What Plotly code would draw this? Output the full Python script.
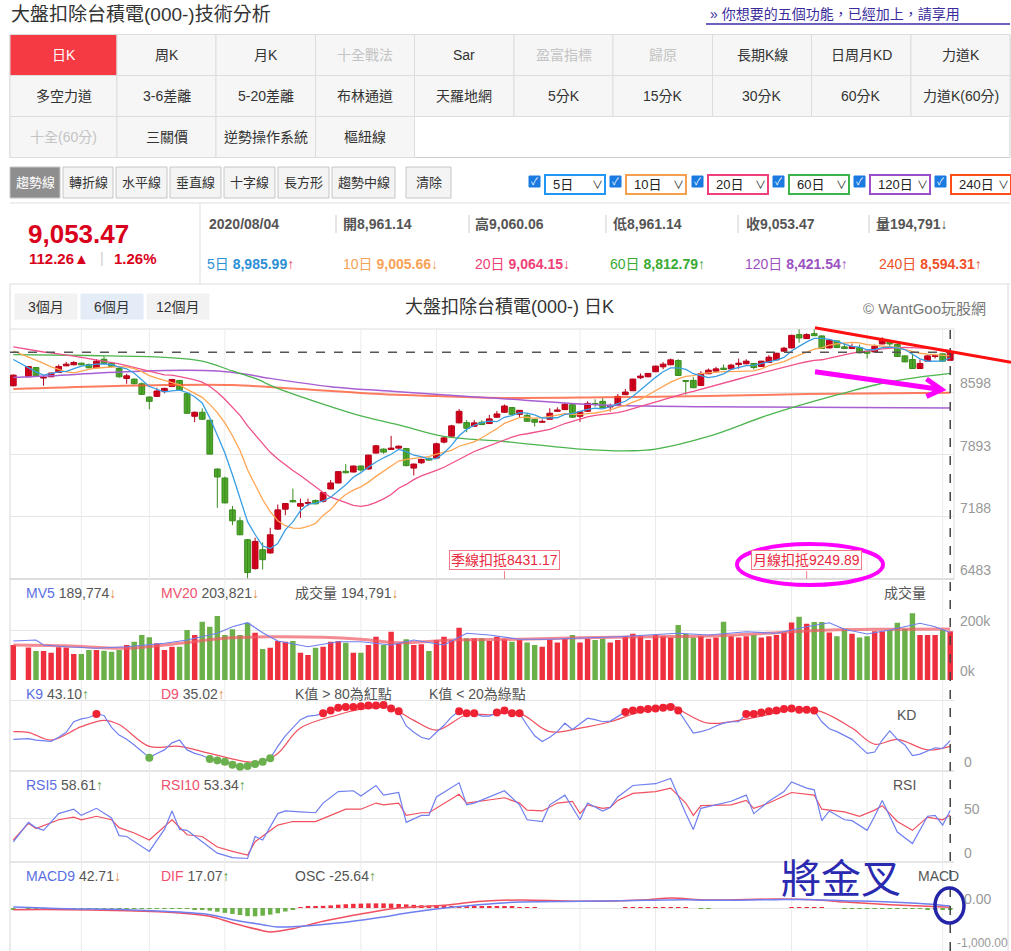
import plotly.graph_objects as go
import pandas as pd

W, H = 1011, 951
def X(px): return px / W
def Y(py): return 1 - py / H

FONT = "Liberation Sans, Noto Sans CJK TC, sans-serif"

# ---------------- data ----------------
N = 125
opens = [8672, None, 8774, 8879, 8760, 8774, 8823, 8898, 8910, 8928,
         8913, 8876, 8973, 8928, 8868, 8755, 8748, 8695, 8545, 8552,
         8609, 8665, 8733, 8586, 8327, 8372, 8282, 7729, 7627, 7266,
         7142, 6928, 6601, 6815, 6778, 7048, 7274, 7372, 7308, 7340,
         7372, 7364, 7503, 7571, 7703, 7695, 7763, 7729, 7910, 7955,
         7951, 7966, 7962, 7740, 7800, 7849, 7853, 8034, 8101, 8252,
         8255, 8214, 8259, 8244, 8316, 8372, 8425, 8349, 8338, 8289,
         8259, 8293, 8383, 8402, 8458, 8327, 8383, 8470, 8496, 8432,
         8462, 8571, 8616, 8763, 8774, 8831, 8887, 8910, 8958, 8727,
         8733, 8676, 8808, 8838, 8872, 8864, 8913, 8921, 8925, 8891,
         8936, 8966, 9064, 9101, 9252, 9207, 9263, 9237, 9101, 9180,
         9113, 9094, 9105, 9064, 9056, 9146, 9169, 9139, 9011, 8970,
         8868, 8951, 9004, 9034, 8961.14]
highs = [8800, None, 8895, 8883, 8793, 8822, 8913, 8943, 8951, 8932,
         8925, 8973, 9007, 8943, 8872, 8808, 8752, 8710, 8550, 8650,
         8648, 8750, 8738, 8590, 8380, 8417, 8285, 7735, 7642, 7312,
         7183, 6935, 6951, 6898, 7063, 7327, 7342, 7507, 7394, 7394,
         7383, 7466, 7605, 7703, 7785, 7767, 7767, 7890, 8003, 7962,
         8105, 7996, 7966, 7790, 7846, 7864, 8027, 8094, 8229, 8409,
         8285, 8285, 8282, 8342, 8387, 8460, 8430, 8398, 8364, 8293,
         8293, 8417, 8428, 8477, 8462, 8380, 8496, 8518, 8533, 8470,
         8578, 8635, 8752, 8812, 8816, 8898, 8940, 8981, 8973, 8730,
         8770, 8838, 8868, 8887, 8913, 8921, 8981, 8973, 8930, 8955,
         9019, 9045, 9113, 9248, 9312, 9267, 9312, 9241, 9192, 9184,
         9161, 9150, 9139, 9068, 9139, 9222, 9192, 9143, 9015, 9034,
         8970, 9015, 9034, 9038, 9060.06]
lows = [8665, None, 8770, 8780, 8673, 8770, 8820, 8895, 8905, 8905,
        8872, 8872, 8920, 8880, 8763, 8695, 8690, 8570, 8406, 8548,
        8586, 8660, 8615, 8355, 8259, 8290, 7895, 7289, 7340, 7093,
        6980, 6492, 6590, 6590, 6770, 7040, 7206, 7350, 7176, 7308,
        7330, 7348, 7500, 7568, 7680, 7690, 7700, 7725, 7905, 7902,
        7948, 7950, 7760, 7657, 7785, 7825, 7850, 8020, 8098, 8248,
        8146, 8210, 8228, 8240, 8310, 8368, 8345, 8319, 8265, 8210,
        8255, 8290, 8380, 8398, 8312, 8263, 8380, 8435, 8420, 8380,
        8458, 8568, 8612, 8748, 8770, 8828, 8860, 8905, 8785, 8571,
        8645, 8672, 8805, 8820, 8855, 8860, 8865, 8918, 8857, 8888,
        8932, 8962, 9060, 9098, 9161, 9203, 9235, 9090, 9097, 9100,
        9090, 9090, 9040, 8981, 9052, 9142, 9124, 9000, 8940, 8865,
        8865, 8948, 8981, 8948, 8961.14]
closes = [8793, None, 8891, 8785, 8765, 8816, 8891, 8917, 8936, 8910,
          8876, 8951, 8925, 8891, 8774, 8785, 8695, 8575, 8496, 8613,
          8643, 8744, 8620, 8361, 8372, 8293, 7898, 7639, 7345, 7142,
          6984, 6556, 6909, 6702, 6984, 7266, 7338, 7357, 7338, 7345,
          7334, 7462, 7571, 7699, 7687, 7763, 7718, 7887, 7992, 7921,
          7966, 7988, 7767, 7785, 7838, 7830, 8015, 8082, 8218, 8383,
          8191, 8252, 8233, 8297, 8353, 8443, 8349, 8394, 8270, 8259,
          8263, 8361, 8398, 8462, 8316, 8376, 8473, 8462, 8425, 8443,
          8552, 8601, 8748, 8782, 8812, 8895, 8917, 8966, 8789, 8722,
          8650, 8812, 8849, 8864, 8857, 8906, 8928, 8951, 8879, 8951,
          8996, 9041, 9098, 9244, 9214, 9252, 9240, 9094, 9188, 9105,
          9094, 9116, 9045, 9041, 9120, 9199, 9146, 9004, 8943, 8868,
          8925, 9011, 9008, 8951, 9053.47]
volumes_k = [140, None, 130, 116, 116, 109, 131, 130, 104, 104,
             120, 120, 117, 113, 120, 140, 153, 180, 171, 147,
             120, 133, 133, 200, 180, 233, 213, 256, 180, 203,
             180, 229, 189, 124, 129, 156, 153, 156, 109, 100,
             129, 133, 153, 156, 149, 109, 109, 140, 173, 140,
             193, 147, 163, 140, 143, 116, 160, 173, 160, 209,
             167, 167, 167, 156, 173, 163, 153, 160, 150, 140,
             133, 160, 150, 165, 180, 150, 165, 160, 165, 150,
             160, 175, 185, 175, 160, 180, 175, 170, 220, 185,
             170, 175, 165, 170, 233, 175, 170, 175, 180, 170,
             175, 180, 190, 230, 253, 225, 232, 232, 190, 175,
             205, 185, 170, 175, 195, 195, 200, 229, 205, 267,
             180, 180, 180, 200, 194.791]

# MA heads (first days)
ma5_head = {0: 8970, 2: 8876, 3: 8830, 4: 8793}
ma10_head = {0: 9067, 2: 9000, 3: 8966, 4: 8925, 5: 8887, 6: 8857, 7: 8831, 8: 8819, 9: 8842}
ma20_head = {0: 9113, 2: 9080, 3: 9070, 4: 9055, 5: 9045, 6: 9035, 7: 9020, 8: 9008, 9: 8995,
             10: 8980, 11: 8968, 12: 8955, 13: 8940, 14: 8920, 15: 8900, 16: 8880, 17: 8860,
             18: 8838, 19: 8815}
ma60_idx = [0, 10, 20, 25, 29, 32, 35, 42, 46, 51, 57, 65, 75, 82, 85, 92, 100, 109, 116, 124]
ma60_val = [9026, 9015, 8995, 8951, 8840, 8755, 8643, 8436, 8331, 8229, 8098, 8041, 7955, 7936,
            7955, 8098, 8342, 8568, 8718, 8812.79]
ma120_idx = [0, 5, 12, 20, 27, 31, 34, 42, 51, 64, 78, 92, 105, 124]
ma120_val = [8767, 8785, 8820, 8846, 8840, 8800, 8756, 8662, 8605, 8530, 8455, 8436, 8428, 8421.54]
ma240_idx = [0, 20, 29, 38, 47, 56, 65, 78, 92, 105, 124]
ma240_val = [8635, 8680, 8680, 8635, 8586, 8556, 8535, 8541, 8556, 8579, 8594.31]

mv5_idx = [0, 3, 4, 7, 11, 15, 20, 23, 27, 29, 31, 33, 35, 39, 43, 46, 50, 53, 57, 60, 63, 67, 71,
           75, 80, 84, 88, 92, 97, 101, 105, 108, 110, 113, 116, 120, 122, 124]
mv5_val = [156, 160, 140, 133, 127, 133, 147, 160, 187, 213, 229, 189, 156, 133, 153, 153, 140,
           160, 140, 187, 180, 163, 163, 167, 173, 180, 187, 180, 193, 187, 213, 229, 203, 184,
           200, 227, 213, 189.774]
mv20_idx = [0, 7, 15, 22, 28, 34, 41, 46, 51, 58, 67, 75, 84, 92, 101, 108, 114, 118, 124]
mv20_val = [140, 137, 127, 147, 167, 173, 171, 163, 149, 160, 163, 169, 173, 176, 189, 200, 203,
            203, 203.821]

K9 = [45, None, 46, 44, 43, 42, 48, 55, 70, 74,
      76, 81, 79, 62, 51, 45, 37, 28, 19, 25,
      30, 40, 44, 30, 25, 22, 17, 15, 13, 9,
      6, 7, 10, 13, 18, 35, 50, 62, 73, 78,
      79, 82, 86, 90, 91, 91, 92, 93, 93, 94,
      89, 85, 64, 55, 48, 45, 55, 65, 77, 85,
      82, 82, 78, 78, 83, 86, 82, 82, 65, 50,
      42, 48, 56, 68, 59, 67, 75, 73, 70, 71,
      78, 84, 86, 87, 88, 89, 90, 91, 86, 70,
      54, 56, 59, 64, 68, 70, 70, 81, 81, 83,
      85, 86, 88, 89, 87, 87, 86, 70, 60, 56,
      50, 45, 35, 25, 27, 44, 57, 45, 37, 22,
      24, 28, 33, 32, 43.10]
d9_idx = [0, 2, 5, 9, 12, 14, 18, 22, 26, 31, 33, 35, 38, 43, 46, 50, 53, 56, 60, 63, 67, 71, 75,
          79, 82, 85, 87, 89, 92, 98, 101, 104, 107, 111, 114, 117, 121, 124]
d9_val = [56, 55, 44, 63, 72, 66, 35, 35, 25, 13, 14, 25, 61, 80, 88, 89, 72, 58, 80, 80, 82, 56,
          61, 70, 81, 89, 94, 82, 68, 76, 83, 89, 84, 61, 38, 45, 30, 35.02]

rsi5_idx = [0, 2, 3, 4, 6, 8, 9, 11, 13, 14, 15, 18, 20, 21, 22, 23, 25, 27, 29, 31, 32, 33, 35,
            36, 38, 40, 41, 43, 45, 46, 48, 49, 51, 52, 54, 55, 56, 59, 60, 61, 65, 67, 68, 70,
            71, 73, 75, 76, 78, 79, 80, 82, 85, 87, 89, 90, 91, 93, 95, 97, 98, 100, 102, 103,
            105, 106, 107, 108, 110, 111, 113, 114, 115, 117, 119, 121, 122, 123, 124]
rsi5_val = [23, 45, 39, 36, 55, 60, 53, 61, 50, 30, 29, 12, 37, 58, 37, 36, 23, 10, 5, 4, 29, 25,
            55, 58, 57, 56, 67, 80, 81, 75, 87, 76, 79, 45, 53, 53, 74, 90, 65, 67, 81, 65, 48,
            46, 65, 76, 48, 67, 58, 62, 74, 87, 89, 95, 55, 37, 61, 65, 69, 76, 55, 69, 80, 91,
            84, 82, 47, 58, 48, 47, 36, 52, 70, 34, 21, 52, 53, 42, 58.61]
rsi10_idx = [0, 2, 3, 6, 8, 9, 11, 13, 14, 16, 18, 21, 23, 25, 27, 29, 31, 32, 35, 37, 40, 44,
             46, 48, 49, 51, 52, 54, 55, 57, 59, 60, 65, 67, 68, 70, 72, 74, 75, 76, 78, 79, 80,
             82, 85, 87, 89, 90, 91, 95, 97, 98, 100, 103, 106, 107, 110, 112, 114, 115, 117,
             119, 121, 123, 124]
rsi10_val = [25, 44, 38, 48, 51, 48, 52, 48, 39, 33, 25, 48, 31, 29, 17, 12, 8, 23, 42, 46, 46,
             60, 60, 67, 65, 67, 53, 56, 56, 67, 77, 67, 73, 67, 59, 58, 67, 69, 55, 65, 61, 62,
             70, 78, 80, 84, 67, 53, 64, 65, 70, 61, 67, 79, 76, 60, 57, 52, 59, 64, 46, 36, 51,
             48, 53.34]

macd_idx = [0, 7, 15, 20, 26, 29, 33, 35, 38, 43, 48, 53, 58, 63, 67, 75, 84, 89, 92, 101, 106,
            110, 116, 121, 124]
macd_val = [23, -15, -38, -76, -152, -265, -379, -432, -417, -341, -227, -91, 15, 91, 136, 152,
            174, 190, 174, 190, 190, 167, 136, 91, 42.71]
dif_idx = [0, 7, 15, 20, 26, 29, 33, 34, 37, 41, 46, 51, 57, 62, 67, 75, 84, 87, 92, 101, 106,
           110, 116, 121, 124]
dif_val = [-38, -38, -61, -91, -190, -341, -515, -546, -470, -303, -136, 0, 61, 152, 182, 152,
           190, 227, 182, 205, 190, 136, 76, 38, 17.07]
osc = [-30, None, -25, -10, -8, -8, -8, -8, -5, -5,
       -5, -5, -8, -8, -10, -12, -15, -15, -18, -20,
       -18, -15, -15, -20, -30, -40, -60, -85, -110, -135,
       -160, -185, -190, -175, -150, -120, -80, -40, 10, 25,
       40, 50, 60, 75, 85, 95, 100, 105, 105, 105,
       100, 92, 82, 72, 62, 56, 55, 52, 48, 46,
       44, 42, 38, 35, 30, 28, 24, 20, 15, 3,
       0, 0, 0, 0, 0, 0, 0, 0, 0, 0,
       0, 3, 8, 8, 8, 8, 8, 8, 8, 3,
       0, -6, -6, 0, 0, 0, 0, 0, 0, 0,
       0, 0, 0, 3, 8, 8, 8, 3, 0, 0,
       -8, -10, -12, -12, -12, -10, -10, -12, -15, -18,
       -22, -25, -28, -30, -25.64]

grid_idx = [9, 18, 28, 46, 56, 75, 85, 103, 113, 123]
price_ticks = [8598, 7893, 7188, 6483]
deduct_quarter, deduct_month = 8431.17, 9249.89

# ---------------- derived ----------------
idx = list(range(N))
cs = pd.Series(closes, dtype=float)
valid = cs.dropna()
def ma(n, head):
    m = valid.rolling(n).mean().reindex(cs.index)
    for k, v in head.items():
        m[k] = v
    return [None if pd.isna(v) else v for v in m]
ma5 = ma(5, ma5_head)
ma10 = ma(10, ma10_head)
ma20 = ma(20, ma20_head)

RED, GREEN = "#d6001c", "#4fa82c"
REDE, GREENE = "#b50018", "#3a8c1f"

fig = go.Figure()

# wicks
for up, col in [(True, REDE), (False, GREENE)]:
    wx, wy = [], []
    for i in idx:
        if opens[i] is None:
            continue
        if (closes[i] >= opens[i]) == up:
            wx += [i, i, None]
            wy += [lows[i], highs[i], None]
    fig.add_trace(go.Scatter(x=wx, y=wy, mode="lines", line=dict(color=col, width=1),
                             yaxis="y", hoverinfo="skip", showlegend=False))

# bodies
bx, bb, bh, bc, be = [], [], [], [], []
for i in idx:
    if opens[i] is None:
        continue
    o, c = opens[i], closes[i]
    bx.append(i)
    bb.append(min(o, c))
    bh.append(max(abs(c - o), 10))
    up = c >= o
    bc.append(RED if up else GREEN)
    be.append(REDE if up else GREENE)
fig.add_trace(go.Bar(x=bx, y=bh, base=bb, width=0.76, yaxis="y",
                     marker=dict(color=bc, line=dict(color=be, width=1)), showlegend=False))

# moving averages
fig.add_trace(go.Scatter(x=ma240_idx, y=ma240_val, mode="lines", yaxis="y", line=dict(color="rgba(255,80,40,0.75)", width=2, shape="spline"), showlegend=False))
fig.add_trace(go.Scatter(x=ma120_idx, y=ma120_val, mode="lines", yaxis="y", line=dict(color="#a85fd2", width=1.5, shape="spline"), showlegend=False))
fig.add_trace(go.Scatter(x=ma60_idx, y=ma60_val, mode="lines", yaxis="y", line=dict(color="#4cb54e", width=1.3, shape="spline"), showlegend=False))
fig.add_trace(go.Scatter(x=idx, y=ma20, mode="lines", yaxis="y", connectgaps=True, line=dict(color="#f0508c", width=1.3), showlegend=False))
fig.add_trace(go.Scatter(x=idx, y=ma10, mode="lines", yaxis="y", connectgaps=True, line=dict(color="#ffa552", width=1.3), showlegend=False))
fig.add_trace(go.Scatter(x=idx, y=ma5, mode="lines", yaxis="y", connectgaps=True, line=dict(color="#3a9ee4", width=1.3), showlegend=False))

# volume
vol = [None if v is None else v * 1000 for v in volumes_k]
vcol = []
for i in idx:
    if opens[i] is None:
        vcol.append("#ffffff")
    else:
        vcol.append("#ee2f3d" if closes[i] >= opens[i] else "#6cb04a")
fig.add_trace(go.Bar(x=idx, y=vol, width=0.72, yaxis="y2", marker=dict(color=vcol, line=dict(width=0)), showlegend=False))
fig.add_trace(go.Scatter(x=mv20_idx, y=[v * 1000 for v in mv20_val], mode="lines", yaxis="y2", line=dict(color="rgba(240,90,100,0.7)", width=3, shape="spline"), showlegend=False))
fig.add_trace(go.Scatter(x=mv5_idx, y=[v * 1000 for v in mv5_val], mode="lines", yaxis="y2", line=dict(color="#6f7ff0", width=1.2), showlegend=False))

# KD
fig.add_trace(go.Scatter(x=d9_idx, y=d9_val, mode="lines", yaxis="y3", line=dict(color="#f0505f", width=1.2, shape="spline"), showlegend=False))
fig.add_trace(go.Scatter(x=idx, y=K9, mode="lines", yaxis="y3", connectgaps=True, line=dict(color="#6f7ff0", width=1.2), showlegend=False))
hx = [i for i in idx if K9[i] is not None and K9[i] > 80]
lx = [i for i in idx if K9[i] is not None and K9[i] < 20]
fig.add_trace(go.Scatter(x=hx, y=[K9[i] for i in hx], mode="markers", yaxis="y3", marker=dict(color="#ee2233", size=8), showlegend=False))
fig.add_trace(go.Scatter(x=lx, y=[K9[i] for i in lx], mode="markers", yaxis="y3", marker=dict(color="#6ab04c", size=8), showlegend=False))

# RSI
fig.add_trace(go.Scatter(x=rsi10_idx, y=rsi10_val, mode="lines", yaxis="y4", line=dict(color="#f0505f", width=1.2), showlegend=False))
fig.add_trace(go.Scatter(x=rsi5_idx, y=rsi5_val, mode="lines", yaxis="y4", line=dict(color="#6f7ff0", width=1.2), showlegend=False))

# MACD
ocol = ["#ee2f3d" if (v is not None and v > 0) else "#6cb04a" for v in osc]
fig.add_trace(go.Bar(x=idx, y=osc, width=0.6, yaxis="y5", marker=dict(color=ocol, line=dict(width=0)), showlegend=False))
fig.add_trace(go.Scatter(x=dif_idx, y=dif_val, mode="lines", yaxis="y5", line=dict(color="#f0505f", width=1.5, shape="spline"), showlegend=False))
fig.add_trace(go.Scatter(x=macd_idx, y=macd_val, mode="lines", yaxis="y5", line=dict(color="#6f7ff0", width=1.5, shape="spline"), showlegend=False))

# ---------------- layout ----------------
def ydom(top, bot):
    return [Y(bot), Y(top)]

GRID = "#e6e6e6"
yax = dict(showticklabels=False, zeroline=False, showline=False, ticks="", fixedrange=True,
           gridcolor=GRID, gridwidth=1)
layout_axes = dict(
    xaxis=dict(domain=[X(10), X(954)], range=[-0.44, 124.5], showticklabels=False,
               showgrid=False, zeroline=False, showline=False, ticks=""),
    yaxis=dict(yax, domain=ydom(329, 579), range=[6483, 9315.5], tickvals=price_ticks[:3], showgrid=True),
    yaxis2=dict(yax, domain=ydom(580, 682), range=[-8000, 400000], tickvals=[200000], showgrid=True, anchor="x"),
    yaxis3=dict(yax, domain=ydom(683, 772), range=[-1.42, 125.1], tickvals=[100], showgrid=True, anchor="x"),
    yaxis4=dict(yax, domain=ydom(772, 862), range=[0, 102.3], tickvals=[50], showgrid=True, anchor="x"),
    yaxis5=dict(yax, domain=ydom(862, 951), range=[-977, 1045], tickvals=[0], showgrid=True, anchor="x"),
)

shapes = []
ann = []

def rect(x0, y0, x1, y1, fill="rgba(0,0,0,0)", line="#cccccc", lw=1, layer="below"):
    shapes.append(dict(type="rect", xref="paper", yref="paper", x0=X(x0), x1=X(x1), y0=Y(y1), y1=Y(y0),
                       fillcolor=fill, line=dict(color=line, width=lw), layer=layer))

def hline(x0, x1, y, color="#dddddd", lw=1, dash="solid", layer="below"):
    shapes.append(dict(type="line", xref="paper", yref="paper", x0=X(x0), x1=X(x1), y0=Y(y), y1=Y(y),
                       line=dict(color=color, width=lw, dash=dash), layer=layer))

def vline(x, y0, y1, color="#dddddd", lw=1, dash="solid", layer="below"):
    shapes.append(dict(type="line", xref="paper", yref="paper", x0=X(x), x1=X(x), y0=Y(y0), y1=Y(y1),
                       line=dict(color=color, width=lw, dash=dash), layer=layer))

def text(x, y, s, size=14, color="#333333", anchor="left", family=FONT, yanchor="middle"):
    ann.append(dict(xref="paper", yref="paper", x=X(x), y=Y(y), text=s, showarrow=False,
                    xanchor=anchor, yanchor=yanchor, font=dict(size=size, color=color, family=family)))

# ----- header -----
text(9, 14, "大盤扣除台積電(000-)技術分析", size=19, color="#333333")
text(708, 14, "» 你想要的五個功能，已經加上，請享用", size=14, color="#3a2c9c")
hline(706, 1010, 24, color="#3a2ca8", lw=1.5, layer="above")

cols = [10, 117, 216, 315.5, 414.5, 514, 613, 712.5, 811.5, 911, 1010]
rows = [34.5, 75.5, 116.5, 157.5]
grid_text = [
    ["日K", "周K", "月K", "十全戰法", "Sar", "盈富指標", "歸原", "長期K線", "日周月KD", "力道K"],
    ["多空力道", "3-6差離", "5-20差離", "布林通道", "天羅地網", "5分K", "15分K", "30分K", "60分K", "力道K(60分)"],
    ["十全(60分)", "三關價", "逆勢操作系統", "樞紐線"],
]
disabled = {"十全戰法", "盈富指標", "歸原", "十全(60分)"}
rect(10, 34.5, 1010, 157.5, fill="#ffffff", line="#cfcfcf")
for r, row in enumerate(grid_text):
    for c, lab in enumerate(row):
        sel = (r == 0 and c == 0)
        rect(cols[c], rows[r], cols[c + 1], rows[r + 1], fill="#f53a44" if sel else "#f6f6f6", line="#dddddd")
        col = "#ffffff" if sel else ("#c4c4c4" if lab in disabled else "#333333")
        text((cols[c] + cols[c + 1]) / 2, (rows[r] + rows[r + 1]) / 2, lab, size=14, color=col, anchor="center")

# ----- toolbar -----
tools = [("趨勢線", 10, 60), ("轉折線", 63, 113), ("水平線", 116, 167), ("垂直線", 170, 221),
         ("十字線", 224, 275), ("長方形", 278, 329), ("趨勢中線", 332, 395), ("清除", 406, 451)]
for k, (lab, a, b) in enumerate(tools):
    sel = k == 0
    rect(a, 167, b, 198, fill="#8e8e8e" if sel else "#f4f4f4", line="#c6c6c6")
    text((a + b) / 2, 182.5, lab, size=13, color="#ffffff" if sel else "#333333", anchor="center")

ma_sel = [("5日", 545, "#2196f3"), ("10日", 626, "#f5a050"), ("20日", 708, "#f0407a"),
          ("60日", 789, "#3cb44b"), ("120日", 870, "#9b4dca"), ("240日", 951, "#ff4d1a")]
for lab, a, colr in ma_sel:
    rect(a - 16, 176, a - 5, 187, fill="#1a7ae0", line="#1a7ae0", layer="above")
    text(a - 10.5, 181.5, "✓", size=10, color="#ffffff", anchor="center")
    rect(a, 175, a + 60, 194, fill="#ffffff", line=colr, lw=2)
    text(a + 6, 184.5, lab, size=13, color="#222222")
    text(a + 52, 184.5, "∨", size=11, color="#222222", anchor="center")

# ----- info panel -----
hline(10, 1010, 203, color="#dddddd")
hline(10, 1010, 284, color="#dddddd")
vline(200, 203, 284, color="#dddddd")
text(26, 234, "<b>9,053.47</b>", size=26, color="#d9001b")
text(27, 258, "<b>112.26▲</b>", size=15, color="#d9001b")
text(102, 258, "|", size=14, color="#cccccc", anchor="center")
text(112, 258, "<b>1.26%</b>", size=15, color="#d9001b")
row1 = [(207, "<b>2020/08/04</b>"), (341, "<b>開8,961.14</b>"), (473, "<b>高9,060.06</b>"),
        (611, "<b>低8,961.14</b>"), (744, "<b>收9,053.47</b>"), (874, "<b>量194,791</b>↓")]
for x, s in row1:
    text(x, 224, s, size=14, color="#555555")
for x in [336, 469, 606, 738, 869]:
    vline(x, 215, 233, color="#cccccc")
row2 = [(205, "5日", "8,985.99", "↑", "#2d8fd5", "#e8456a"), (341, "10日", "9,005.66", "↓", "#f7a256", "#f7a256"),
        (473, "20日", "9,064.15", "↓", "#ef3f78", "#ef3f78"), (608, "60日", "8,812.79", "↑", "#3aaa35", "#3aaa35"),
        (743, "120日", "8,421.54", "↑", "#9b51c0", "#9b51c0"), (877, "240日", "8,594.31", "↑", "#f0502a", "#f0502a")]
for x, a, v, ar, c, ac in row2:
    text(x, 264, f"{a} <b>{v}</b><span style='color:{ac}'>{ar}</span>", size=14, color=c)

# ----- chart box -----
vline(10, 284, 951, color="#d8d8d8")
vline(1008, 284, 951, color="#d8d8d8")
for lab, a, b, f in [("3個月", 15, 77, "#f2f2f2"), ("6個月", 81, 143, "#e3ecf7"), ("12個月", 147, 209, "#f2f2f2")]:
    rect(a, 294, b, 319, fill=f, line=f)
    text((a + b) / 2, 306.5, lab, size=14, color="#333333", anchor="center")
text(509, 307, "大盤扣除台積電(000-) 日K", size=18, color="#333333", anchor="center")
text(988, 308, "© WantGoo玩股網", size=15, color="#777777", anchor="right")

hline(10, 954, 329, color="#dddddd")
vline(954, 329, 579, color="#dddddd")
hline(10, 954, 579, color="#bbbbbb")
hline(10, 954, 771, color="#cccccc")
hline(10, 954, 862, color="#cccccc")

# vertical grid (data x)
for g in grid_idx:
    shapes.append(dict(type="line", xref="x", yref="paper", x0=g, x1=g, y0=Y(951), y1=Y(329),
                       line=dict(color="#ebebeb", width=1), layer="below"))

# last close dashed & crosshair
shapes.append(dict(type="line", xref="paper", yref="y", x0=X(10), x1=X(954), y0=closes[-1], y1=closes[-1],
                   line=dict(color="#555555", width=1.5, dash="dash"), layer="above"))
shapes.append(dict(type="line", xref="x", yref="paper", x0=N - 1, x1=N - 1, y0=Y(951), y1=Y(329),
                   line=dict(color="#444444", width=1.5, dash="dash"), layer="above"))

# axis labels
def axlab(val, s, yref, shift=9, x=958):
    ann.append(dict(xref="paper", yref=yref, x=X(x), y=val, text=s, showarrow=False, xanchor="left",
                    yanchor="middle", yshift=shift, font=dict(size=14, color="#999999", family=FONT)))
for v in price_ticks:
    axlab(v, str(v), "y")
axlab(200000, "200k", "y2")
axlab(0, "0k", "y2")
axlab(0, "0", "y3", x=962)
axlab(50, "50", "y4", x=962)
axlab(0, "0", "y4", x=962)
axlab(0, "0.00", "y5", x=962)
text(1010, 943, "-1,000.00", size=12, color="#999999", anchor="right")

# deduction annotations
for xi, lab, val in [(N - 60, "季線扣抵", deduct_quarter), (N - 20, "月線扣抵", deduct_month)]:
    ann.append(dict(xref="x", yref="y", x=xi, y=6698, text=f"{lab}{val:.2f}", showarrow=False,
                    xanchor="center", yanchor="middle", bgcolor="#ffffff", bordercolor="#f27a8a",
                    borderwidth=1, borderpad=1, font=dict(size=14, color="#e8283c", family=FONT)))
    shapes.append(dict(type="line", xref="x", yref="y", x0=xi, x1=xi, y0=6483, y1=6574,
                       line=dict(color="#f27a8a", width=1), layer="above"))

# panel labels
def plab(x, y, parts):
    s = "".join(f"<span style='color:{c}'>{t}</span>" for t, c in parts)
    text(x, y, s, size=14)
G = "#555555"
plab(24, 593, [("MV5", "#5b6ee1"), (" 189,774", G), ("↓", "#e08a3c")])
plab(159, 593, [("MV20", "#f0506e"), (" 203,821", G), ("↓", "#e08a3c")])
plab(293, 593, [("成交量 194,791", G), ("↓", "#e08a3c")])
text(928, 593, "成交量", size=14, color="#555555", anchor="right")
plab(24, 694, [("K9", "#5b6ee1"), (" 43.10", G), ("↑", "#5aa040")])
plab(159, 694, [("D9", "#f0506e"), (" 35.02", G), ("↑", "#e08a3c")])
plab(293, 694, [("K值 > 80為紅點", G)])
plab(427, 694, [("K值 < 20為綠點", G)])
text(918, 715, "KD", size=14, color="#555555", anchor="right")
plab(24, 785, [("RSI5", "#5b6ee1"), (" 58.61", G), ("↑", "#5aa040")])
plab(159, 785, [("RSI10", "#f0506e"), (" 53.34", G), ("↑", "#5aa040")])
text(918, 785, "RSI", size=14, color="#555555", anchor="right")
plab(24, 876, [("MACD9", "#5b6ee1"), (" 42.71", G), ("↓", "#e08a3c")])
plab(159, 876, [("DIF", "#f0506e"), (" 17.07", G), ("↑", "#5aa040")])
plab(293, 876, [("OSC -25.64", G), ("↑", "#5aa040")])
text(961, 876, "MACD", size=14, color="#555555", anchor="right")

# hand drawn marks
shapes.append(dict(type="line", xref="paper", yref="paper", x0=X(815), y0=Y(327.7), x1=X(1011), y1=Y(362.2),
                   line=dict(color="#ff1010", width=3), layer="above"))
shapes.append(dict(type="path", xref="paper", yref="paper",
                   path=f"M {X(815)},{Y(371.7)} L {X(941)},{Y(389.5)} M {X(926.5)},{Y(379)} L {X(941.5)},{Y(389.5)} L {X(926.5)},{Y(396.5)}",
                   line=dict(color="#ff00ff", width=5), layer="above"))
shapes.append(dict(type="circle", xref="paper", yref="paper", x0=X(737), x1=X(883), y0=Y(585), y1=Y(544),
                   line=dict(color="#ff00ff", width=4), layer="above"))
shapes.append(dict(type="circle", xref="paper", yref="paper", x0=X(935), x1=X(964), y0=Y(923), y1=Y(888),
                   line=dict(color="#2424a8", width=3.5), layer="above"))
text(841, 876, "將金叉", size=40, color="#2a2ab0", anchor="center",
     family="Noto Sans CJK TC, Noto Sans CJK SC, sans-serif")

fig.update_layout(
    width=W, height=H, margin=dict(l=0, r=0, t=0, b=0),
    paper_bgcolor="#ffffff", plot_bgcolor="rgba(0,0,0,0)",
    barmode="overlay", showlegend=False, hovermode=False,
    font=dict(family=FONT),
    shapes=shapes, annotations=ann,
    **layout_axes,
)

fig.write_html("out.html")
